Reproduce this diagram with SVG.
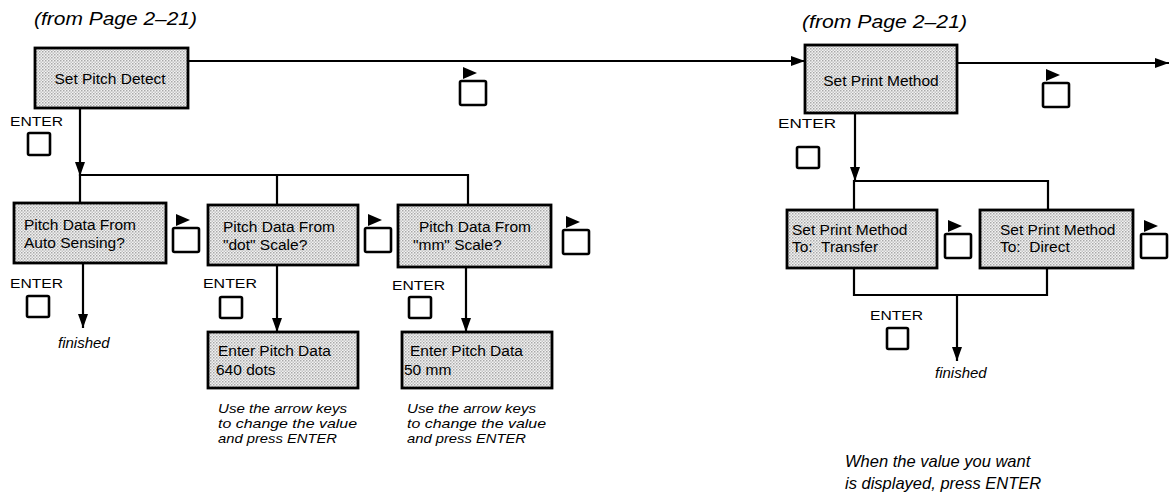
<svg xmlns="http://www.w3.org/2000/svg" width="1170" height="499" viewBox="0 0 1170 499">
<style>
.box{fill:url(#dots);stroke:#000;stroke-width:2.8}
.bt{font-family:"Liberation Sans",Arial,sans-serif;font-size:15.5px;fill:#000}
.ln{fill:none;stroke:#000;stroke-width:2.2}
.en{font-family:"Liberation Sans",Arial,sans-serif;font-size:13.5px;fill:#000}
.key{fill:#fff;stroke:#000;stroke-width:2.6}
.it{font-family:"Liberation Sans",Arial,sans-serif;font-style:italic;fill:#000}
.nt{font-family:"Liberation Sans",Arial,sans-serif;font-style:italic;font-size:13px;fill:#000}
</style>
<defs>
<pattern id="dots" width="3" height="3" patternUnits="userSpaceOnUse">
<rect width="3" height="3" fill="#f2f2f2"/>
<rect x="0" y="0" width="1.5" height="1.5" fill="#a8a8a8"/>
<rect x="1.5" y="1.5" width="1.5" height="1.5" fill="#c4c4c4"/>
</pattern>
<marker id="ah" markerUnits="userSpaceOnUse" markerWidth="14" markerHeight="10" refX="14" refY="5" orient="auto">
<path d="M0,0 L14,5 L0,10 z" fill="#000"/>
</marker>
<g id="rk">
<path d="M3,0 L17,6 L3,12 z" fill="#000"/>
<rect class="key" x="0" y="14" width="26" height="24" rx="1.5"/>
</g>
</defs>
<rect width="1170" height="499" fill="#fff"/>

<text class="it" x="34" y="25" font-size="18.5" textLength="163" lengthAdjust="spacingAndGlyphs">(from Page 2–21)</text>
<text class="it" x="802" y="28" font-size="18.5" textLength="165" lengthAdjust="spacingAndGlyphs">(from Page 2–21)</text>

<g id="connectors">
<line class="ln" x1="188" y1="61" x2="805" y2="61" marker-end="url(#ah)"/>
<line class="ln" x1="957" y1="63" x2="1169" y2="63" marker-end="url(#ah)"/>
<line class="ln" x1="80" y1="108" x2="80" y2="176" marker-end="url(#ah)"/>
<polyline class="ln" points="80,205 80,175 468,175 468,205"/>
<line class="ln" x1="277" y1="175" x2="277" y2="205"/>
<line class="ln" x1="83" y1="263" x2="83" y2="328" marker-end="url(#ah)"/>
<line class="ln" x1="277" y1="265" x2="277" y2="332" marker-end="url(#ah)"/>
<line class="ln" x1="466" y1="267" x2="466" y2="332" marker-end="url(#ah)"/>
<line class="ln" x1="855" y1="113" x2="855" y2="181" marker-end="url(#ah)"/>
<polyline class="ln" points="854,210 854,181 1048,181 1048,210"/>
<polyline class="ln" points="854,268 854,295 1047,295 1047,268"/>
<line class="ln" x1="957" y1="295" x2="957" y2="361" marker-end="url(#ah)"/>
</g>

<g id="setPitchDetect">
<rect class="box" x="35" y="48" width="153" height="60"/>
<text class="bt" x="110" y="84" text-anchor="middle">Set Pitch Detect</text>
</g>
<g id="keyTop1"><use href="#rk" x="460" y="67"/></g>
<g id="enterTop1">
<text class="en" x="10" y="126" textLength="53" lengthAdjust="spacingAndGlyphs">ENTER</text>
<rect class="key" x="28" y="133" width="22" height="22" rx="1.5"/>
</g>

<g id="autoSensing">
<rect class="box" x="14" y="203" width="152" height="60"/>
<text class="bt" x="24" y="230">Pitch Data From</text>
<text class="bt" x="24" y="248">Auto Sensing?</text>
</g>
<g id="keyAuto"><use href="#rk" x="173" y="214"/></g>
<g id="enterAuto">
<text class="en" x="10" y="288" textLength="53" lengthAdjust="spacingAndGlyphs">ENTER</text>
<rect class="key" x="27" y="296" width="22" height="21" rx="1.5"/>
</g>
<text class="it" x="58" y="348" font-size="15">finished</text>

<g id="dotScale">
<rect class="box" x="208" y="205" width="150" height="60"/>
<text class="bt" x="223" y="232">Pitch Data From</text>
<text class="bt" x="223" y="250">"dot" Scale?</text>
</g>
<g id="keyDot"><use href="#rk" x="365" y="214"/></g>
<g id="enterDot">
<text class="en" x="203" y="288" textLength="54" lengthAdjust="spacingAndGlyphs">ENTER</text>
<rect class="key" x="220" y="297" width="22" height="21" rx="1.5"/>
</g>

<g id="mmScale">
<rect class="box" x="398" y="205" width="153" height="62"/>
<text class="bt" x="419" y="232">Pitch Data From</text>
<text class="bt" x="413" y="250">"mm" Scale?</text>
</g>
<g id="keyMm"><use href="#rk" x="563" y="216"/></g>
<g id="enterMm">
<text class="en" x="392" y="290" textLength="53" lengthAdjust="spacingAndGlyphs">ENTER</text>
<rect class="key" x="409" y="297" width="22" height="21" rx="1.5"/>
</g>

<g id="enterDots">
<rect class="box" x="208" y="332" width="150" height="56"/>
<text class="bt" x="218" y="356">Enter Pitch Data</text>
<text class="bt" x="216" y="375">640 dots</text>
</g>
<text class="nt" x="218" y="413" textLength="129" lengthAdjust="spacingAndGlyphs">Use the arrow keys</text>
<text class="nt" x="218" y="428" textLength="139" lengthAdjust="spacingAndGlyphs">to change the value</text>
<text class="nt" x="218" y="443" textLength="119" lengthAdjust="spacingAndGlyphs">and press ENTER</text>

<g id="enterMmData">
<rect class="box" x="402" y="332" width="150" height="56"/>
<text class="bt" x="410" y="356">Enter Pitch Data</text>
<text class="bt" x="404" y="375">50 mm</text>
</g>
<text class="nt" x="407" y="413" textLength="129" lengthAdjust="spacingAndGlyphs">Use the arrow keys</text>
<text class="nt" x="407" y="428" textLength="139" lengthAdjust="spacingAndGlyphs">to change the value</text>
<text class="nt" x="407" y="443" textLength="119" lengthAdjust="spacingAndGlyphs">and press ENTER</text>

<g id="setPrintMethod">
<rect class="box" x="805" y="45" width="152" height="68"/>
<text class="bt" x="881" y="86" text-anchor="middle">Set Print Method</text>
</g>
<g id="keyTop2"><use href="#rk" x="1043" y="69"/></g>
<g id="enterTop2">
<text class="en" x="778" y="128" textLength="58" lengthAdjust="spacingAndGlyphs">ENTER</text>
<rect class="key" x="797" y="147" width="22" height="21" rx="1.5"/>
</g>

<g id="transfer">
<rect class="box" x="787" y="210" width="150" height="58"/>
<text class="bt" x="792" y="235">Set Print Method</text>
<text class="bt" x="792" y="252">To:&#160; Transfer</text>
</g>
<g id="keyTransfer"><use href="#rk" x="945" y="220"/></g>

<g id="direct">
<rect class="box" x="980" y="210" width="153" height="58"/>
<text class="bt" x="1000" y="235">Set Print Method</text>
<text class="bt" x="1000" y="252">To:&#160; Direct</text>
</g>
<g id="keyDirect"><use href="#rk" x="1141" y="220"/></g>

<g id="enterBottom">
<text class="en" x="870" y="320" textLength="53" lengthAdjust="spacingAndGlyphs">ENTER</text>
<rect class="key" x="887" y="328" width="21" height="21" rx="1.5"/>
</g>
<text class="it" x="935" y="378" font-size="15">finished</text>

<text class="it" font-size="16.5"><tspan x="845" y="467">When the value you want</tspan><tspan x="845" y="489">is displayed, press ENTER</tspan></text>
</svg>
